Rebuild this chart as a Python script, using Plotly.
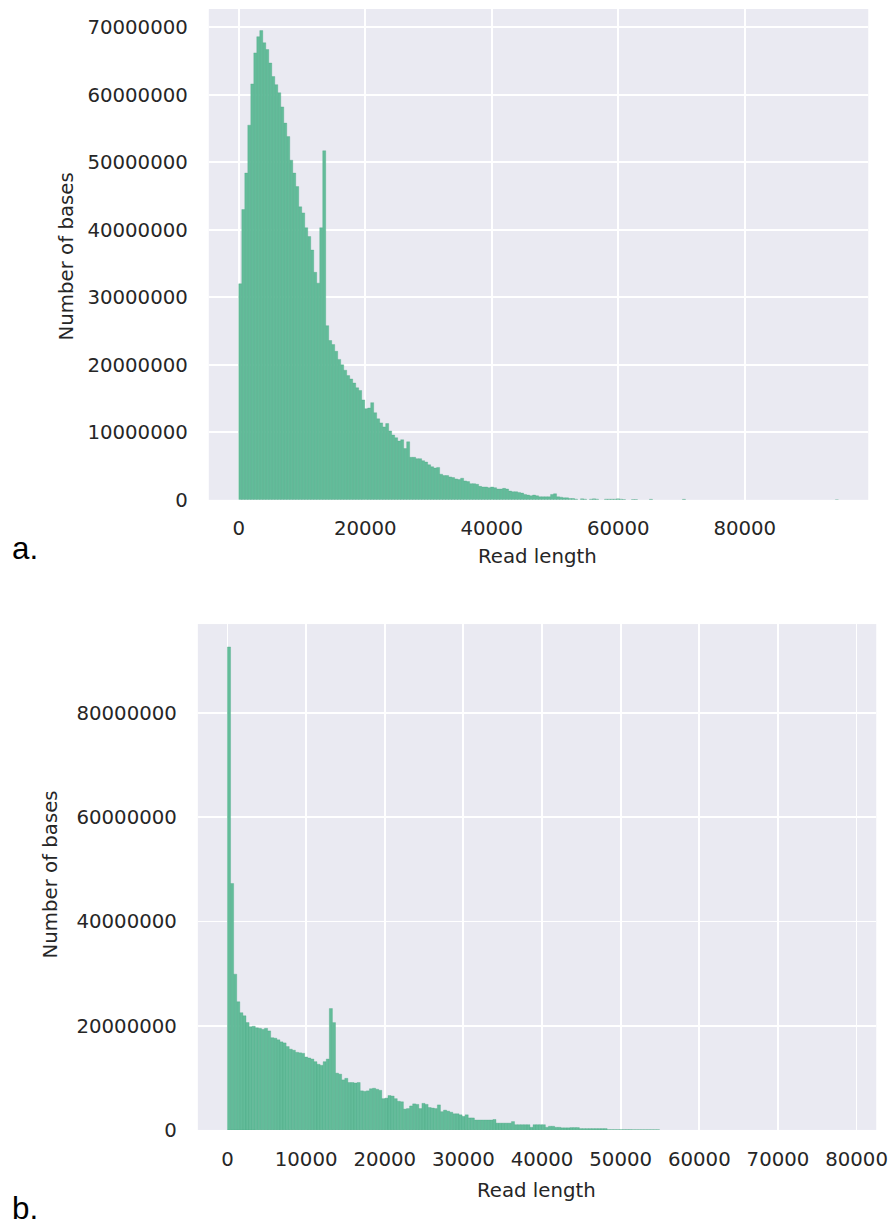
import numpy as np
import plotly.graph_objects as go

# ---------------- data (values in millions of bases per bin) ----------------
bin_width_a = 474.0
values_a_millions = [
    32.0, 43.0, 48.4, 55.5, 61.6, 66.2, 68.6, 69.5, 67.7, 66.7,
    64.7, 62.7, 61.5, 60.3, 58.2, 55.8, 53.8, 50.3, 48.4, 46.4,
    43.4, 42.5, 40.3, 39.0, 37.0, 33.7, 32.1, 40.3, 51.7, 25.8,
    23.6, 23.0, 22.0, 20.8, 20.0, 19.2, 18.4, 17.9, 17.3, 16.6,
    16.2, 14.8, 13.5, 13.6, 14.4, 12.9, 12.0, 11.4, 10.8, 11.3,
    10.2, 9.6, 9.2, 8.7, 8.9, 7.6, 8.6, 6.3, 6.3, 6.1,
    6.1, 5.8, 5.6, 5.2, 4.9, 4.7, 4.8, 3.8, 3.6, 3.6,
    3.4, 3.3, 3.1, 3.0, 3.2, 2.8, 2.7, 2.4, 2.4, 2.3,
    2.0, 1.9, 1.9, 1.8, 1.9, 1.8, 1.6, 1.6, 1.7, 1.6,
    1.3, 1.2, 1.2, 1.1, 1.0, 0.8, 0.7, 0.6, 0.7, 0.6,
    0.45, 0.45, 0.45, 0.45, 0.8, 0.9, 0.45, 0.4, 0.3, 0.3,
    0.2, 0.2, 0.1, 0.0, 0.15, 0.1, 0.0, 0.1, 0.15, 0.1,
    0.0, 0.0, 0.1, 0.1, 0.1, 0.1, 0.15, 0.1, 0.05, 0.0,
    0.0, 0.05, 0.05, 0.0, 0.0, 0.0, 0.0, 0.08, 0.0, 0.0,
    0.0, 0.0, 0.0, 0.0, 0.0, 0.0, 0.0, 0.0, 0.08, 0.0,
    0.0, 0.0, 0.0, 0.0, 0.0, 0.0, 0.0, 0.0, 0.0, 0.0,
    0.0, 0.0, 0.0, 0.0, 0.0, 0.0, 0.0, 0.0, 0.0, 0.0,
    0.0, 0.0, 0.0, 0.0, 0.0, 0.0, 0.0, 0.0, 0.0, 0.0,
    0.0, 0.0, 0.0, 0.0, 0.0, 0.0, 0.0, 0.0, 0.0, 0.0,
    0.0, 0.0, 0.0, 0.0, 0.0, 0.0, 0.0, 0.0, 0.0, 0.02,
]

bin_width_b = 392.5
values_b_millions = [
    92.7, 47.3, 29.9, 24.6, 22.5, 21.9, 20.6, 19.8, 19.9, 19.6,
    19.5, 19.3, 19.5, 19.0, 17.7, 17.6, 17.3, 16.9, 16.7, 16.0,
    15.5, 15.3, 14.9, 14.8, 14.7, 14.0, 13.8, 13.6, 13.1, 12.6,
    12.4, 13.1, 13.6, 23.3, 20.6, 10.9, 10.7, 9.6, 9.9, 9.1,
    9.1, 9.0, 9.1, 7.5, 7.4, 7.5, 7.9, 8.0, 7.8, 7.6,
    6.0, 6.1, 6.6, 6.5, 6.0, 5.5, 5.4, 4.0, 4.1, 4.6,
    5.0, 4.9, 4.1, 5.1, 4.9, 4.3, 4.2, 4.1, 4.8, 3.5,
    3.8, 3.6, 3.4, 3.1, 3.1, 2.9, 2.6, 2.9, 2.3, 2.3,
    1.9, 1.9, 1.9, 1.9, 1.9, 1.9, 2.0, 1.3, 1.3, 1.3,
    1.3, 1.3, 1.6, 1.0, 1.0, 1.0, 1.0, 1.0, 0.5, 1.0,
    1.0, 1.0, 1.0, 0.5, 0.7, 0.7, 0.5, 0.5, 0.4, 0.4,
    0.4, 0.45, 0.45, 0.45, 0.25, 0.25, 0.25, 0.25, 0.25, 0.25,
    0.25, 0.25, 0.25, 0.05, 0.05, 0.05, 0.05, 0.05, 0.05, 0.05,
    0.05, 0.03, 0.03, 0.03, 0.03, 0.03, 0.03, 0.03, 0.03, 0.03,
    0.0, 0.0, 0.0, 0.0, 0.0, 0.0, 0.0, 0.0, 0.0, 0.0,
    0.0, 0.0, 0.0, 0.0, 0.0, 0.0, 0.0, 0.0, 0.0, 0.0,
    0.0, 0.0, 0.0, 0.0, 0.0, 0.0, 0.0, 0.0, 0.0, 0.0,
    0.0, 0.0, 0.0, 0.0, 0.0, 0.0, 0.0, 0.0, 0.0, 0.0,
    0.0, 0.0, 0.0, 0.0, 0.0, 0.0, 0.0, 0.0, 0.0, 0.0,
    0.0, 0.0, 0.0, 0.0, 0.0, 0.0, 0.0, 0.0, 0.0, 0.0,
]

x_ticks_a = [0, 20000, 40000, 60000, 80000]
y_ticks_a = [0, 10000000, 20000000, 30000000, 40000000, 50000000, 60000000, 70000000]
x_ticks_b = [0, 10000, 20000, 30000, 40000, 50000, 60000, 70000, 80000]
y_ticks_b = [0, 20000000, 40000000, 60000000, 80000000]

panel_labels = ["a.", "b."]
x_title = "Read length"
y_title = "Number of bases"

# ---------------- derived ----------------
vals_a = np.array(values_a_millions) * 1e6
vals_b = np.array(values_b_millions) * 1e6
centers_a = (np.arange(len(vals_a)) + 0.5) * bin_width_a
centers_b = (np.arange(len(vals_b)) + 0.5) * bin_width_b

# the captured page is slightly larger than 890x1224 and is shrunk to fit;
# size the figure to the captured page so the result lands at 890x1224
K = 1.0115
W, H = round(890 * K), round(1224 * K)
BAR = "#63BC9A"
EDGE = "rgba(70,165,128,0.55)"
BG = "#EAEAF2"
TXT = "#262626"
FONT = "DejaVu Sans"
FS = 19.5 * K


def edge_colors(vals):
    return [EDGE if v > 0 else "rgba(0,0,0,0)" for v in vals]


fig = go.Figure()
fig.add_trace(go.Bar(x=centers_a, y=vals_a, width=bin_width_a,
                     marker=dict(color=BAR, line=dict(color=edge_colors(vals_a), width=0.6)),
                     xaxis="x", yaxis="y", showlegend=False))
fig.add_trace(go.Bar(x=centers_b, y=vals_b, width=bin_width_b,
                     marker=dict(color=BAR, line=dict(color=edge_colors(vals_b), width=0.6)),
                     xaxis="x2", yaxis="y2", showlegend=False))


def px_x(p):
    return p * K / W


def px_y(p):
    return 1 - p * K / H


axis_common = dict(showgrid=True, gridcolor="white", gridwidth=1.8,
                   zeroline=False, showline=False, ticks="",
                   tickfont=dict(family=FONT, size=FS, color=TXT),
                   tickformat="d", exponentformat="none")

fig.update_layout(
    width=W, height=H,
    margin=dict(l=0, r=0, t=0, b=0),
    paper_bgcolor="white", plot_bgcolor=BG,
    bargap=0,
    xaxis=dict(domain=[px_x(209), px_x(869)], range=[-4740, 99530],
               tickvals=x_ticks_a, ticklabelstandoff=14, anchor="y", **axis_common),
    yaxis=dict(domain=[px_y(499), px_y(9)], range=[0, 72.7e6],
               tickvals=y_ticks_a, ticklabelstandoff=20, anchor="x", **axis_common),
    xaxis2=dict(domain=[px_x(198), px_x(877)], range=[-3770, 82500],
                tickvals=x_ticks_b, ticklabelstandoff=15, anchor="y2", **axis_common),
    yaxis2=dict(domain=[px_y(1128), px_y(623)], range=[0, 97.1e6],
                tickvals=y_ticks_b, ticklabelstandoff=20, anchor="x2", **axis_common),
)

ann_font = dict(family=FONT, size=FS, color=TXT)
annotations = [
    dict(text=x_title, x=px_x(538), y=px_y(556), font=ann_font),
    dict(text=y_title, x=px_x(66), y=px_y(256), textangle=-90, font=ann_font),
    dict(text=x_title, x=px_x(537), y=px_y(1188), font=ann_font),
    dict(text=y_title, x=px_x(51), y=px_y(873), textangle=-90, font=ann_font),
    dict(text=panel_labels[0], x=px_x(10), y=px_y(548), xanchor="left",
         font=dict(family="Liberation Sans", size=31 * K, color="black")),
    dict(text=panel_labels[1], x=px_x(10), y=px_y(1206), xanchor="left",
         font=dict(family="Liberation Sans", size=31 * K, color="black")),
]
for a in annotations:
    a.setdefault("xanchor", "center")
    a.update(xref="paper", yref="paper", yanchor="middle", showarrow=False)
fig.update_layout(annotations=annotations)

# remove the default page margin so the figure sits exactly in the window
PAGE_FIX = ("document.documentElement.style.margin='0';"
            "document.documentElement.style.overflow='hidden';"
            "document.body.style.margin='0';"
            "document.body.style.overflow='hidden';")

fig.write_html("out.html", post_script=PAGE_FIX,
               config={"displayModeBar": False, "staticPlot": True})
